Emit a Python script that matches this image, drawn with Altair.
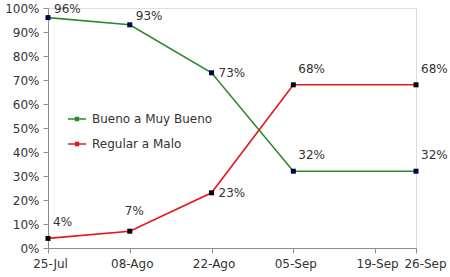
import altair as alt
import pandas as pd

# ---- data ----
point_dates = ["25-Jul", "08-Ago", "22-Ago", "05-Sep", "26-Sep"]
point_days = [0, 14, 28, 42, 63]          # days since 25-Jul
series_names = ["Bueno a Muy Bueno", "Regular a Malo"]
bueno = [96, 93, 73, 32, 32]
regular = [4, 7, 23, 68, 68]
tick_days = [0, 14, 28, 42, 56, 63]
tick_labels = ["25-Jul", "08-Ago", "22-Ago", "05-Sep", "19-Sep", "26-Sep"]
y_ticks = [0, 10, 20, 30, 40, 50, 60, 70, 80, 90, 100]

rows = []
for name, vals in zip(series_names, [bueno, regular]):
    for d, day, v in zip(point_dates, point_days, vals):
        rows.append({"date": d, "day": day, "series": name, "value": v,
                     "label": f"{v}%"})
df = pd.DataFrame(rows)

FONT = "DejaVu Sans"
TXT = "#333333"
AX = "#8c8c8c"

label_map = "{" + ",".join(f"'{d}':'{l}'" for d, l in zip(tick_days, tick_labels)) + "}"

x = alt.X("day:Q",
          scale=alt.Scale(domain=[0, 63], nice=False, zero=True),
          axis=alt.Axis(values=tick_days, labelExpr=f"{label_map}[datum.value]",
                        title=None, grid=False, tickSize=5, labelPadding=5,
                        domainColor=AX, tickColor=AX, labelColor=TXT,
                        labelFont=FONT, labelFontSize=12, labelFlush=False,
                        labelOverlap=False,
                        labelOffset={"condition": {"test": "datum.value == 63", "value": 9},
                                     "value": 2}))
y = alt.Y("value:Q",
          scale=alt.Scale(domain=[0, 100], nice=False),
          axis=alt.Axis(values=y_ticks, labelExpr="datum.value + '%'",
                        title=None, grid=False, tickSize=5, labelPadding=4,
                        domainColor=AX, tickColor=AX, labelColor=TXT,
                        labelFont=FONT, labelFontSize=12))

base = alt.Chart(df)

lines = base.mark_line(strokeWidth=1.6).encode(
    x=x, y=y,
    color=alt.Color("series:N",
                    scale=alt.Scale(domain=series_names, range=["#2a8a2a", "#e8161b"]),
                    legend=alt.Legend(
                        title=None, orient="none", legendX=19, legendY=101,
                        symbolType="M-1,0H1M-0.15,-0.15H0.15V0.15H-0.15Z",
                        symbolSize=324, symbolStrokeWidth=1.6,
                        symbolFillColor="#000040",
                        labelFont=FONT, labelFontSize=12, labelColor=TXT,
                        labelOffset=5, rowPadding=9, padding=0)),
)

points = base.mark_square(size=25, opacity=1).encode(
    x=x, y=y,
    fill=alt.Fill("series:N",
                  scale=alt.Scale(domain=series_names, range=["#00004a", "#000000"]),
                  legend=None),
)


def labels(expr, dx, dy):
    return base.mark_text(align="left", baseline="middle", dx=dx, dy=dy,
                          font=FONT, fontSize=12, color=TXT).encode(
        x=x, y=y, text="label:N").transform_filter(expr)


g = "datum.series == 'Bueno a Muy Bueno'"
r = "datum.series == 'Regular a Malo'"
lab_a = labels(f"{g} && datum.day <= 14", 6, -9)
lab_b = labels("datum.day == 28", 7, 0)
lab_c = labels(f"{r} && datum.day == 14", -5, -20)
lab_d = labels(f"datum.day >= 42 || ({r} && datum.day == 0)", 5, -16)

chart = alt.layer(lines, points, lab_a, lab_b, lab_c, lab_d).properties(
    width=368, height=240,
    autosize=alt.AutoSizeParams(type="none"),
    padding={"left": 48, "top": 8, "right": 34, "bottom": 29},
).configure_view(stroke=None).configure(background="white")

chart.save("out.html", embed_options={"renderer": "svg", "actions": False})
